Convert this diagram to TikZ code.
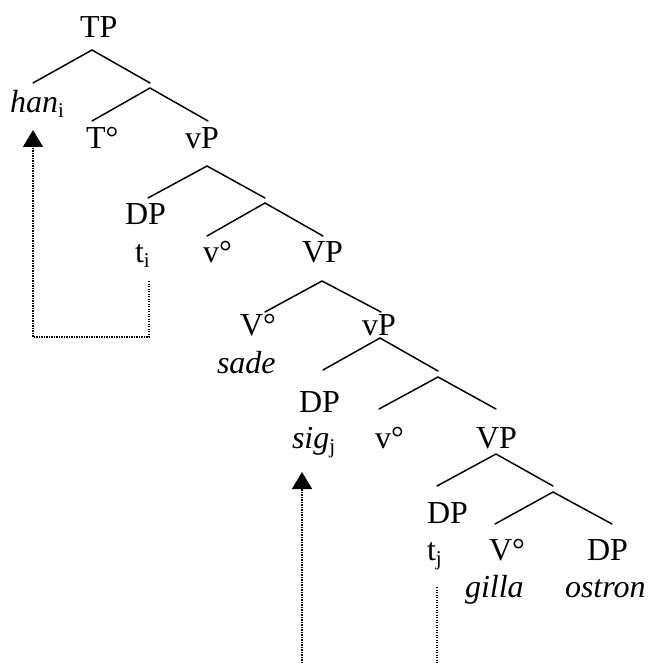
\documentclass[tikz,border=0pt]{standalone}
\usepackage{fontspec}
\setmainfont{Liberation Serif}
\usetikzlibrary{arrows.meta}
\newcommand\lsub[1]{\raisebox{-5pt}{\fontsize{21}{21}\selectfont #1}}
\begin{document}
\begin{tikzpicture}[x=1pt,y=-1pt,
  lab/.style={anchor=base west,inner sep=0pt,outer sep=0pt,font=\fontsize{32}{38}\selectfont},
  branch/.style={line width=1.5pt,line cap=round},
  trace/.style={line width=1.4pt,dash pattern=on 1.2pt off 1.3pt},
  mv/.style={trace,-{Triangle[width=20pt,length=17pt]}}]
\useasboundingbox (0,0) rectangle (648,663);
% labels
\node[lab] (TP) at (80,38) {TP};
\node[lab] (han) at (10,113) {\textit{han}\lsub{i}};
\node[lab] (Tdeg) at (86,149) {T°};
\node[lab] (vP1) at (185,149) {vP};
\node[lab] (DP1) at (125,224) {DP};
\node[lab] (ti) at (135,262) {t\lsub{i}};
\node[lab] (vdeg1) at (203,262) {v°};
\node[lab] (VP1) at (302,262) {VP};
\node[lab] (Vdeg1) at (240,335) {V°};
\node[lab] (vP2) at (362,335) {vP};
\node[lab] (sade) at (217,373) {\textit{sade}};
\node[lab] (DP2) at (299,412) {DP};
\node[lab] (sig) at (292,448) {\textit{sig}\lsub{j}};
\node[lab] (vdeg2) at (375,448) {v°};
\node[lab] (VP2) at (476,448) {VP};
\node[lab] (DP3) at (427,523) {DP};
\node[lab] (tj) at (427,560) {t\lsub{j}};
\node[lab] (Vdeg2) at (489,560) {V°};
\node[lab] (DP4) at (587,560) {DP};
\node[lab] (gilla) at (465,597) {\textit{gilla}};
\node[lab] (ostron) at (565,597) {\textit{ostron}};
% branch points
\coordinate (a1) at (92,50);   \coordinate (a1l) at (33,83);   \coordinate (a1r) at (150,83);
\coordinate (a2) at (150,88);  \coordinate (a2l) at (92,121);  \coordinate (a2r) at (208,121);
\coordinate (a3) at (207,166); \coordinate (a3l) at (148,198); \coordinate (a3r) at (265,198);
\coordinate (a4) at (265,203); \coordinate (a4l) at (207,236); \coordinate (a4r) at (323,236);
\coordinate (a5) at (322,281); \coordinate (a5l) at (265,312); \coordinate (a5r) at (381,312);
\coordinate (a6) at (380,338); \coordinate (a6l) at (323,370); \coordinate (a6r) at (438,371);
\coordinate (a7) at (438,377); \coordinate (a7l) at (379,409); \coordinate (a7r) at (496,409);
\coordinate (a8) at (496,454); \coordinate (a8l) at (437,486); \coordinate (a8r) at (553,486);
\coordinate (a9) at (553,492); \coordinate (a9l) at (495,524); \coordinate (a9r) at (612,524);
\foreach \n in {1,...,9}{
  \draw[branch] (a\n l) -- (a\n) -- (a\n r);
}
% movement traces
\coordinate (tifoot) at (149,281);
\coordinate (c1) at (149,337);
\coordinate (c2) at (33,337);
\coordinate (hantip) at (33,130);
\draw[mv] (tifoot) -- (c1) -- (c2) -- (hantip);
\coordinate (sigbot) at (302,663);
\coordinate (sigtip) at (302,472);
\draw[mv] (sigbot) -- (sigtip);
\coordinate (tjfoot) at (437,587);
\coordinate (tjbot) at (437,663);
\draw[trace] (tjfoot) -- (tjbot);
\end{tikzpicture}
\end{document}
